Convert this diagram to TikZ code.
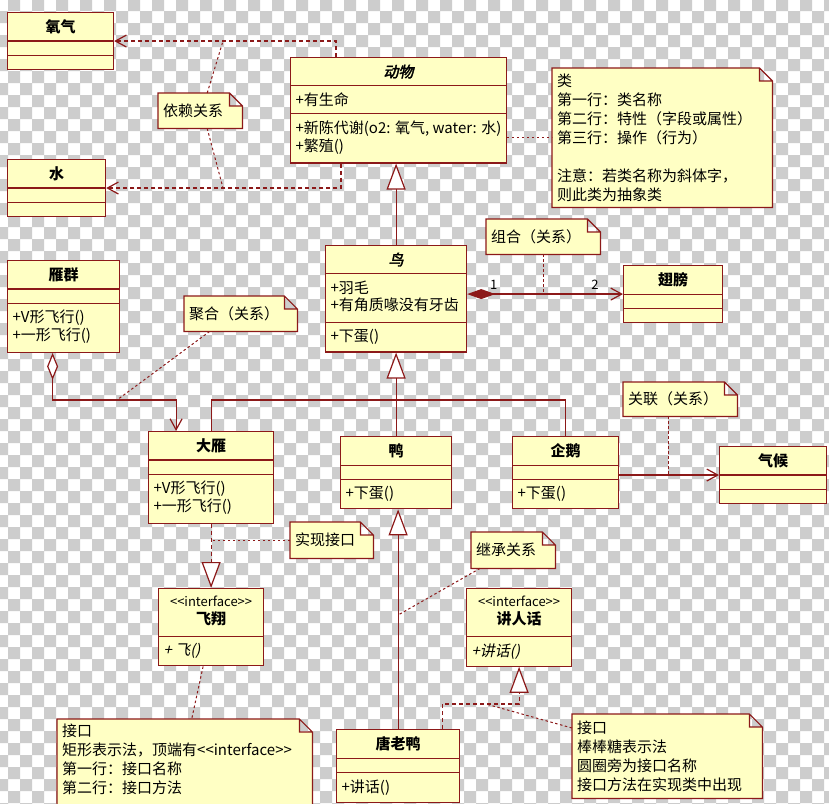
\documentclass[tikz,border=0pt]{standalone}
\usepackage{fontspec}
\setmainfont{Noto Sans CJK SC}[ItalicFont={Noto Sans CJK SC}, ItalicFeatures={FakeSlant=0.2}, BoldItalicFont={Noto Sans CJK SC}, BoldItalicFeatures={FakeSlant=0.2, FakeBold=2.5}]
\usetikzlibrary{shapes.multipart,arrows.meta,calc}
\definecolor{umlred}{RGB}{140,25,25}
\definecolor{umlfill}{RGB}{255,255,196}
\definecolor{checker}{RGB}{205,205,205}
\pgfdeclarelayer{back}
\pgfsetlayers{back,main}

\begin{document}
\begin{tikzpicture}
    [x=1pt, y=-1pt,
    umlclass/.style={rectangle split, rectangle split parts=3, draw=umlred, fill=umlfill, line width=1.2pt,
        anchor=north west, inner xsep=5pt, inner ysep=6.5pt, rectangle split part align={center,left,left},
        font=\fontsize{15}{16}\selectfont},
    iface/.style={umlclass, rectangle split parts=2},
    note/.style={anchor=north west, inner xsep=5pt, inner ysep=5pt, align=left, font=\fontsize{15}{19}\selectfont},
    note fold/.style={draw=umlred, fill=umlfill, line width=1.2pt},
    link/.style={umlred, line width=1.2pt},
    gen/.style={link, -{Triangle[length=26pt,width=19pt,fill=white]}},
    real/.style={gen, dash pattern=on 4pt off 3pt},
    depend/.style={link, -{Straight Barb[length=11pt,width=12pt]}, dash pattern=on 4pt off 3pt},
    assoc/.style={link, -{Straight Barb[length=11pt,width=12pt]}},
    comp/.style={link, {Diamond[length=28pt,width=10pt]}-{Straight Barb[length=11pt,width=12pt]}},
    agg/.style={link, {Diamond[length=27pt,width=11pt,fill=white]}-{Straight Barb[length=11pt,width=12pt]}},
    notelink/.style={umlred, line width=1pt, dash pattern=on 2.5pt off 2.5pt},
    mult/.style={font=\fontsize{13}{13}\selectfont, text=black, inner sep=1pt}]

\useasboundingbox (0,0) rectangle (829,803);

%checker background
\begin{pgfonlayer}{back}
\fill[white] (0,0) rectangle (829,803);
\fill[checker] \foreach \j in {0,2,...,66} {\foreach \i in {0,2,...,68} {(\i*12+8,\j*12-1) rectangle ++(12,12) (\i*12-4,\j*12+11) rectangle ++(12,12)}};
\end{pgfonlayer}

%classes
\node[umlclass, minimum width=106pt] (oxy) at (7,12) {\textbf{氧气}\nodepart{second}\rule{1pt}{0pt}\nodepart{third}\rule{1pt}{0pt}};
\node[umlclass, minimum width=98pt] (water) at (7,159) {\textbf{水}\nodepart{second}\rule{1pt}{0pt}\nodepart{third}\rule{1pt}{0pt}};
\node[umlclass, minimum width=213pt] (animal) at (290,57) {\textbf{\textit{动物}}\nodepart{second}+有生命\nodepart{third}\begin{tabular}{@{}l@{}}+新陈代谢(o2: 氧气, water: 水)\\+繁殖()\end{tabular}};
\node[umlclass, minimum width=141pt] (bird) at (325,245) {\textbf{\textit{鸟}}\nodepart{second}\begin{tabular}{@{}l@{}}+羽毛\\+有角质喙没有牙齿\end{tabular}\nodepart{third}+下蛋()};
\node[umlclass, minimum width=99pt] (wing) at (623,265) {\textbf{翅膀}\nodepart{second}\rule{1pt}{0pt}\nodepart{third}\rule{1pt}{0pt}};
\node[umlclass, minimum width=112pt] (flock) at (7,260) {\textbf{雁群}\nodepart{second}\rule{1pt}{0pt}\nodepart{third}\begin{tabular}{@{}l@{}}+V形飞行()\\+一形飞行()\end{tabular}};
\node[umlclass, minimum width=125pt] (goose) at (148,431) {\textbf{大雁}\nodepart{second}\rule{1pt}{0pt}\nodepart{third}\begin{tabular}{@{}l@{}}+V形飞行()\\+一形飞行()\end{tabular}};
\node[umlclass, minimum width=111pt] (duck) at (340,436) {\textbf{鸭}\nodepart{second}\rule{1pt}{0pt}\nodepart{third}+下蛋()};
\node[umlclass, minimum width=106pt] (penguin) at (512,436) {\textbf{企鹅}\nodepart{second}\rule{1pt}{0pt}\nodepart{third}+下蛋()};
\node[umlclass, minimum width=107pt] (climate) at (719,446) {\textbf{气候}\nodepart{second}\rule{1pt}{0pt}\nodepart{third}\rule{1pt}{0pt}};
\node[iface, minimum width=105pt] (fly) at (158,588) {\begin{tabular}{@{}c@{}}{\fontsize{13}{16}\selectfont <{}<interface>{}>}\\\textbf{飞翔}\end{tabular}\nodepart{second}\textit{+ 飞()}};
\node[iface, minimum width=105pt] (speak) at (466,588) {\begin{tabular}{@{}c@{}}{\fontsize{13}{16}\selectfont <{}<interface>{}>}\\\textbf{讲人话}\end{tabular}\nodepart{second}\textit{+讲话()}};
\node[umlclass, minimum width=123pt] (tang) at (336,729) {\textbf{唐老鸭}\nodepart{second}\rule{1pt}{0pt}\nodepart{third}+讲话()};

%notes
\node[note, text width=74pt, minimum height=35pt] (nDep) at (158,93) {依赖关系};
\node[note, text width=210pt, minimum height=139pt] (nClass) at (552,68) {类\\第一行：类名称\\第二行：特性（字段或属性）\\第三行：操作（行为）\\[19pt]注意：若类名称为斜体字，\\则此类为抽象类};
\node[note, text width=104pt, minimum height=35pt] (nComp) at (486,219) {组合（关系）};
\node[note, text width=103pt, minimum height=35pt] (nAgg) at (184,296) {聚合（关系）};
\node[note, text width=104pt, minimum height=34pt] (nAssoc) at (623,382) {关联（关系）};
\node[note, text width=73pt, minimum height=36pt] (nReal) at (290,522) {实现接口};
\node[note, text width=74pt, minimum height=36pt] (nInher) at (471,532) {继承关系};
\node[note, text width=245pt, text depth=70pt] (nIfL) at (57,719) {接口\\矩形表示法，顶端有<{}<interface>{}>\\第一行：接口名称\\第二行：接口方法};
\node[note, text width=180pt, minimum height=84pt] (nIfR) at (572,714) {接口\\棒棒糖表示法\\圆圈旁为接口名称\\接口方法在实现类中出现};

\begin{pgfonlayer}{back}
\foreach \n in {nDep,nClass,nComp,nAgg,nAssoc,nReal,nInher,nIfL,nIfR}
    \draw[note fold] (\n.north west) -- ([xshift=-13pt]\n.north east) -- ([yshift=-13pt]\n.north east) -- (\n.south east) -- (\n.south west) -- cycle
        ([xshift=-13pt]\n.north east) |- ([yshift=-13pt]\n.north east);
\end{pgfonlayer}

%dependency
\coordinate (depX) at (223,0);
\draw[depend] ([xshift=46pt]animal.north west) |- (oxy.east);
\draw[depend] ([xshift=51pt]animal.south west) |- (water.east);
\draw[notelink] ([xshift=7pt]nDep.north) -- (depX |- oxy.east);
\draw[notelink] ([xshift=7pt]nDep.south) -- (depX |- water.east);
\draw[notelink] (nClass.west -| animal.east) -- (nClass.west);

%generalization
\coordinate (hub) at (0,400);
\draw[gen] (bird.north) -- (bird.north |- animal.south);
\draw[link] (goose.north) |- (duck.north |- hub) -| (penguin.north);
\draw[gen] (duck.north) -- (duck.north |- bird.south);
\draw[gen] (tang.north) -- (tang.north |- duck.south);
\coordinate (inhY) at (0,615);
\draw[notelink] ([xshift=9pt]nInher.south west) -- (tang.north |- inhY);

%aggregation and composition
\coordinate (aggX) at (117,0);
\draw[agg] ([xshift=-11pt]flock.south) |- ([xshift=-35pt]goose.north |- hub) -- ([xshift=-35pt]goose.north);
\draw[notelink] ([xshift=-31pt]nAgg.south) -- (aggX |- hub);
\draw[comp] (wing.west -| bird.east) -- node[mult, pos=0.17, above=3pt] (m1) {1} node[mult, pos=0.82, above=3pt] (m2) {2} (wing.west);
\draw[notelink] (nComp.south) -- (nComp.south |- wing.west);

%association
\draw[assoc] (climate.west -| penguin.east) -- (climate.west);
\draw[notelink] ([xshift=-12pt]nAssoc.south) -- ([xshift=-12pt]nAssoc.south |- climate.west);

%realization
\coordinate (realHub) at (486,704);
\draw[real] (goose.south) -- (fly.north);
\draw[notelink] (nReal.west) -- (nReal.west -| goose.south);
\draw[notelink] ([xshift=-8pt]fly.south) -- ([xshift=7pt]nIfL.north);
\draw[real] ([xshift=-18pt]tang.north east) |- (speak.south |- realHub) -- (speak.south);
\draw[notelink] (nIfR.north west) ++(0,14) -- (realHub);

\end{tikzpicture}
\end{document}
